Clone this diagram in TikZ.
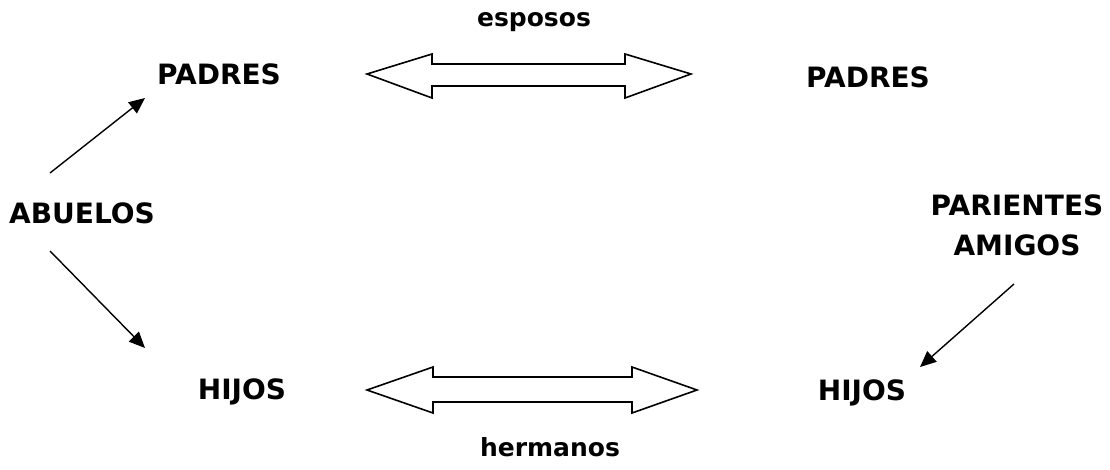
\documentclass[tikz,border=0pt]{standalone}
\usepackage{fontspec}
\setmainfont{DejaVu Sans}
\usetikzlibrary{arrows.meta}
\tikzset{
  lbl/.style={font=\bfseries\fontsize{28}{40}\selectfont, align=center},
  rel/.style={font=\bfseries\fontsize{25}{30}\selectfont},
  flecha/.style={-{Triangle[length=16pt,width=14pt]}, line width=1.4pt},
  doble/.style={line width=1.6pt, fill=white}
}
\begin{document}
\begin{tikzpicture}[x=1pt,y=-1pt]
                \useasboundingbox (0,0) rectangle (1110,470);
                \node[rel] (esposos) at (534,22) {esposos};
                \node[lbl] (padresA) at (219,74) {PADRES};
                \node[lbl] (padresB) at (868,77) {PADRES};
                \node[lbl] (abuelos) at (82,213) {ABUELOS};
                \node[lbl] (parientes) at (1017,225) {PARIENTES\\AMIGOS};
                \node[lbl] (hijosA) at (242,392) {HIJOS};
                \node[lbl] (hijosB) at (862,393) {HIJOS};
                \node[rel] (hermanos) at (550,447) {hermanos};
                \coordinate (a1) at (50,173);
                \coordinate (a2) at (145,98);
                \coordinate (b1) at (50,251);
                \coordinate (b2) at (145,348);
                \coordinate (c1) at (1014,284);
                \coordinate (c2) at (920,367);
                \draw[flecha] (a1) -- (a2);
                \draw[flecha] (b1) -- (b2);
                \draw[flecha] (c1) -- (c2);
                \draw[doble] (367,74) -- (432,54) -- (432,64) -- (625,64) -- (625,54) -- (691,74) -- (625,98) -- (625,86) -- (432,86) -- (432,98) -- cycle;
                \draw[doble] (367,390) -- (433,367) -- (433,377) -- (632,377) -- (632,367) -- (697,390) -- (632,413) -- (632,402) -- (433,402) -- (433,413) -- cycle;
            \end{tikzpicture}
\end{document}
